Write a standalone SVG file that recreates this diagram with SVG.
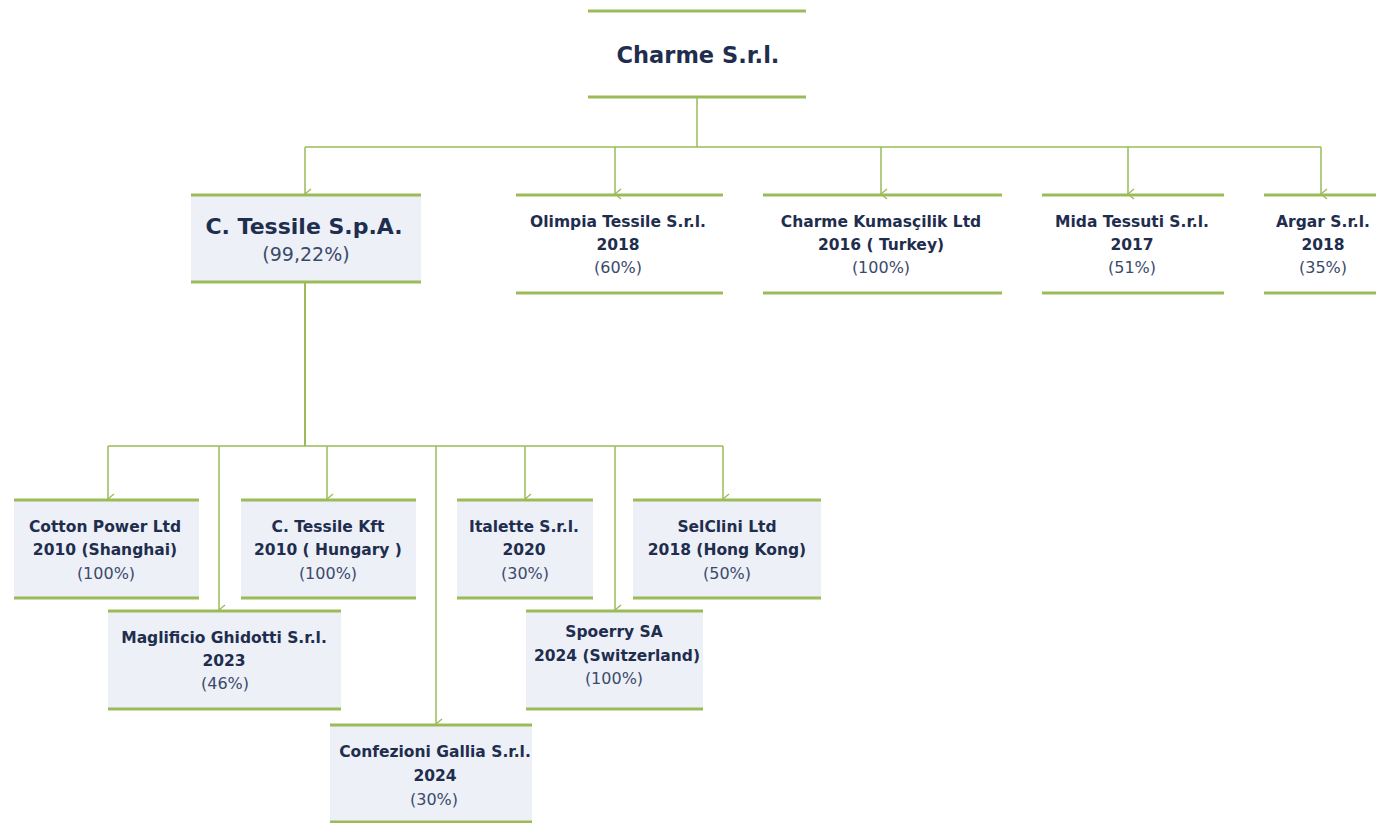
<svg xmlns="http://www.w3.org/2000/svg" width="1376" height="823" viewBox="0 0 1376 823">
<style>
.bar{stroke:#9BBB59;stroke-width:3;fill:none}
.fill{fill:#EDF0F7;stroke:none}
.conn{stroke:#9BBB59;stroke-width:1.5;fill:none}
.t{font-family:"DejaVu Sans","Liberation Sans",Arial,sans-serif;fill:#1F2D4E;text-anchor:middle}
.b{font-weight:bold;font-size:15.5px}
.p{font-size:16px;fill:#3B4A6B}
</style>
<defs>
<marker id="arr" markerWidth="12" markerHeight="8" refX="6" refY="7" orient="auto" markerUnits="userSpaceOnUse" viewBox="0 0 12 8">
<path d="M1,1 L6,7 L11,1" stroke="#9BBB59" stroke-width="1.3" fill="none"/>
</marker>
</defs>
<rect width="1376" height="823" fill="#FFFFFF"/>
<g id="connectors">
<path class="conn" d="M697,97 V147"/>
<path class="conn" d="M305,147 H1321"/>
<path class="conn" d="M305,147 V194" marker-end="url(#arr)"/>
<path class="conn" d="M615,147 V194" marker-end="url(#arr)"/>
<path class="conn" d="M881,147 V194" marker-end="url(#arr)"/>
<path class="conn" d="M1128,147 V194" marker-end="url(#arr)"/>
<path class="conn" d="M1321,147 V194" marker-end="url(#arr)"/>
<path class="conn" d="M305,282 V446" style="stroke-width:2"/>
<path class="conn" d="M108,446 H723"/>
<path class="conn" d="M108,446 V499" marker-end="url(#arr)"/>
<path class="conn" d="M219,446 V610" marker-end="url(#arr)"/>
<path class="conn" d="M327,446 V499" marker-end="url(#arr)"/>
<path class="conn" d="M436,446 V724" marker-end="url(#arr)"/>
<path class="conn" d="M525,446 V499" marker-end="url(#arr)"/>
<path class="conn" d="M615,446 V610" marker-end="url(#arr)"/>
<path class="conn" d="M723,446 V499" marker-end="url(#arr)"/>
</g>
<g id="charme">
<path class="bar" d="M588,11 H806 M588,97 H806"/>
<text class="t" x="698" y="63" font-weight="bold" font-size="22.5">Charme S.r.l.</text>
</g>
<g id="ctessile">
<rect class="fill" x="191" y="195" width="230" height="87"/>
<path class="bar" d="M191,195 H421 M191,282 H421"/>
<text class="t" x="304" y="234" font-weight="bold" font-size="22">C. Tessile S.p.A.</text>
<text class="t p" x="306" y="261" style="font-size:19px">(99,22%)</text>
</g>
<g id="olimpia">
<path class="bar" d="M516,195 H723 M516,293 H723"/>
<text class="t b" x="618" y="227">Olimpia Tessile S.r.l.</text>
<text class="t b" x="618" y="250">2018</text>
<text class="t p" x="618" y="273">(60%)</text>
</g>
<g id="kumascilik">
<path class="bar" d="M763,195 H1002 M763,293 H1002"/>
<text class="t b" x="881" y="227">Charme Kumasçilik Ltd</text>
<text class="t b" x="881" y="250">2016 ( Turkey)</text>
<text class="t p" x="881" y="273">(100%)</text>
</g>
<g id="mida">
<path class="bar" d="M1042,195 H1224 M1042,293 H1224"/>
<text class="t b" x="1132" y="227">Mida Tessuti S.r.l.</text>
<text class="t b" x="1132" y="250">2017</text>
<text class="t p" x="1132" y="273">(51%)</text>
</g>
<g id="argar">
<path class="bar" d="M1264,195 H1376 M1264,293 H1376"/>
<text class="t b" x="1323" y="227">Argar S.r.l.</text>
<text class="t b" x="1323" y="250">2018</text>
<text class="t p" x="1323" y="273">(35%)</text>
</g>
<g id="cotton">
<rect class="fill" x="14" y="500" width="185" height="98"/>
<path class="bar" d="M14,500 H199 M14,598 H199"/>
<text class="t b" x="105" y="532">Cotton Power Ltd</text>
<text class="t b" x="105" y="555">2010 (Shanghai)</text>
<text class="t p" x="106" y="579">(100%)</text>
</g>
<g id="kft">
<rect class="fill" x="241" y="500" width="175" height="98"/>
<path class="bar" d="M241,500 H416 M241,598 H416"/>
<text class="t b" x="328" y="532">C. Tessile Kft</text>
<text class="t b" x="328" y="555">2010 ( Hungary )</text>
<text class="t p" x="328" y="579">(100%)</text>
</g>
<g id="italette">
<rect class="fill" x="457" y="500" width="136" height="98"/>
<path class="bar" d="M457,500 H593 M457,598 H593"/>
<text class="t b" x="524" y="532">Italette S.r.l.</text>
<text class="t b" x="524" y="555">2020</text>
<text class="t p" x="525" y="579">(30%)</text>
</g>
<g id="selclini">
<rect class="fill" x="633" y="500" width="188" height="98"/>
<path class="bar" d="M633,500 H821 M633,598 H821"/>
<text class="t b" x="727" y="532">SelClini Ltd</text>
<text class="t b" x="727" y="555">2018 (Hong Kong)</text>
<text class="t p" x="727" y="579">(50%)</text>
</g>
<g id="maglificio">
<rect class="fill" x="108" y="611" width="233" height="98"/>
<path class="bar" d="M108,611 H341 M108,709 H341"/>
<text class="t b" x="224" y="643">Maglificio Ghidotti S.r.l.</text>
<text class="t b" x="224" y="666">2023</text>
<text class="t p" x="225" y="689">(46%)</text>
</g>
<g id="spoerry">
<rect class="fill" x="526" y="611" width="177" height="98"/>
<path class="bar" d="M526,611 H703 M526,709 H703"/>
<text class="t b" x="614" y="637">Spoerry SA</text>
<text class="t b" x="617" y="661">2024 (Switzerland)</text>
<text class="t p" x="614" y="684">(100%)</text>
</g>
<g id="confezioni">
<rect class="fill" x="330" y="725" width="202" height="97"/>
<path class="bar" d="M330,725 H532 M330,822 H532"/>
<text class="t b" x="435" y="757">Confezioni Gallia S.r.l.</text>
<text class="t b" x="435" y="781">2024</text>
<text class="t p" x="434" y="805">(30%)</text>
</g>
</svg>
